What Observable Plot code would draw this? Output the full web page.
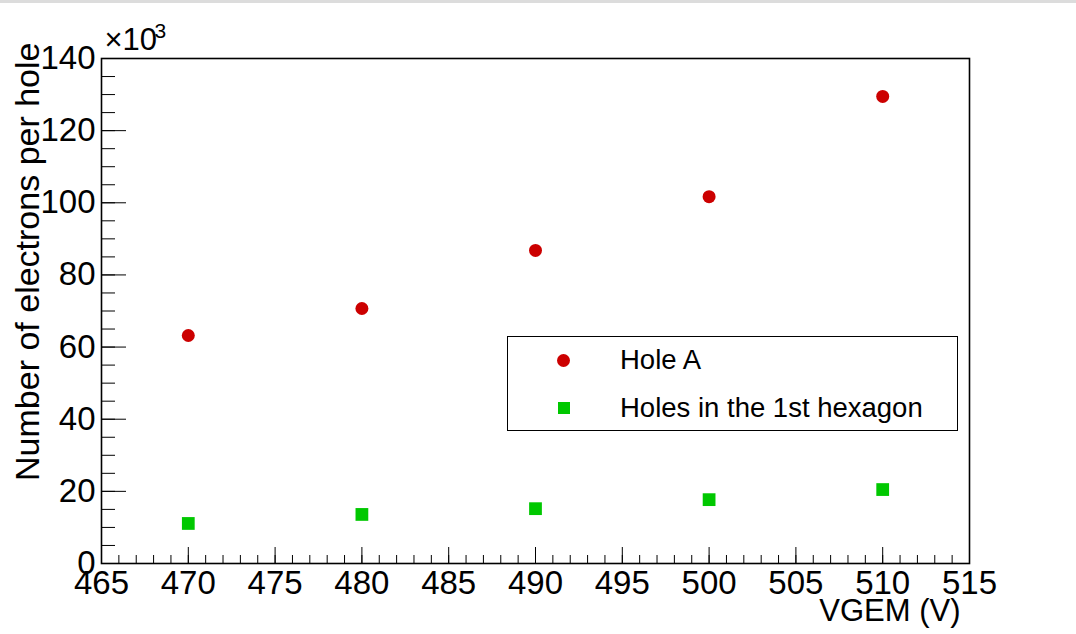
<!DOCTYPE html>
<html><head><meta charset="utf-8">
<script src="https://cdn.jsdelivr.net/npm/d3@7"></script>
<script src="https://cdn.jsdelivr.net/npm/@observablehq/plot@0.6"></script>
<style>
body{margin:0;background:#fff;font-family:"Liberation Sans",Arial,Helvetica,sans-serif;}
#band{height:3px;background:#dcdcdc;}
#wrap{position:relative;width:1076px;height:631px;}
#legend{position:absolute;left:507px;top:333px;width:451px;height:95px;border:1.5px solid #000;background:#fff;box-sizing:border-box;}
.row{position:absolute;left:0;height:30px;}
.mk{position:absolute;}
.lt{position:absolute;left:112px;font-size:27.5px;line-height:30px;white-space:nowrap;color:#000;}
</style></head>
<body>
<div id="band"></div>
<div id="wrap"><div id="legend"></div></div>
<script>
// Data (values in units of 10^3 electrons)
const voltage = [470, 480, 490, 500, 510];
const holeA = [63.2, 70.7, 86.8, 101.7, 129.5];
const hexagon = [11.1, 13.6, 15.2, 17.7, 20.5];
const seriesNames = ["Hole A", "Holes in the 1st hexagon"];
const seriesColors = ["#cc0000", "#00c800"];
const xMajor = [465, 470, 475, 480, 485, 490, 495, 500, 505, 510, 515];
const yMajor = [0, 20, 40, 60, 80, 100, 120, 140];
const xMinor = d3.range(465, 516, 1);
const yMinor = d3.range(0, 141, 5);

const rowsA = voltage.map((v, i) => ({v, n: holeA[i]}));
const rowsH = voltage.map((v, i) => ({v, n: hexagon[i]}));

const W = 1076, H = 631, ML = 101, MR = 107, MT = 55, MB = 71;
const FW = W - ML - MR, FH = H - MT - MB;
const font = '"Liberation Sans", Arial, Helvetica, sans-serif';

const chart = Plot.plot({
  width: W, height: H,
  marginLeft: ML, marginRight: MR, marginTop: MT, marginBottom: MB,
  style: {fontFamily: font, color: "#000", background: "transparent", overflow: "visible"},
  x: {domain: [465, 515]},
  y: {domain: [0, 140]},
  marks: [
    Plot.tickX(xMinor, {x: d => d, insetTop: FH - 8, stroke: "#000", strokeWidth: 1}),
    Plot.tickX(xMajor, {x: d => d, insetTop: FH - 16, stroke: "#000", strokeWidth: 1}),
    Plot.tickY(yMinor, {y: d => d, insetRight: FW - 14, stroke: "#000", strokeWidth: 1}),
    Plot.tickY(yMajor, {y: d => d, insetRight: FW - 25, stroke: "#000", strokeWidth: 1}),
    Plot.frame({stroke: "#000", strokeWidth: 1.6}),
    Plot.axisX(xMajor, {tickSize: 0, tickPadding: 7, fontSize: 33, label: null}),
    Plot.axisY(yMajor, {tickSize: 0, tickPadding: 6, fontSize: 33, label: null}),
    Plot.text(["Number of electrons per hole"], {frameAnchor: "top-left", rotate: -90, textAnchor: "end", lineAnchor: "middle", dx: -73, dy: -16, fontSize: 34, fill: "#000"}),
    Plot.text(["VGEM (V)"], {frameAnchor: "bottom-right", textAnchor: "end", lineAnchor: "middle", dx: -9, dy: 48, fontSize: 31, fill: "#000"}),
    Plot.text(["×10"], {frameAnchor: "top-left", textAnchor: "start", lineAnchor: "middle", dx: 3, dy: -18, fontSize: 31, fill: "#000"}),
    Plot.text(["3"], {frameAnchor: "top-left", textAnchor: "start", lineAnchor: "middle", dx: 53, dy: -27, fontSize: 21, fill: "#000"}),
    Plot.dot(rowsA, {x: "v", y: "n", r: 6.5, fill: seriesColors[0], symbol: "circle"}),
    Plot.dot(rowsH, {x: "v", y: "n", r: 7.2, fill: seriesColors[1], symbol: "square"})
  ]
});
document.getElementById("wrap").prepend(chart);

// Legend
const legend = document.getElementById("legend");
seriesNames.forEach((name, i) => {
  const row = document.createElement("div");
  row.className = "row";
  row.style.top = (i === 0 ? 8 : 56) + "px";
  row.style.width = "100%";
  const mk = document.createElement("div");
  mk.className = "mk";
  mk.style.background = seriesColors[i];
  if (i === 0) { mk.style.width = "13px"; mk.style.height = "13px"; mk.style.borderRadius = "50%"; mk.style.left = "49px"; mk.style.top = "8.5px"; }
  else { mk.style.width = "12px"; mk.style.height = "12px"; mk.style.left = "49.5px"; mk.style.top = "9px"; }
  const t = document.createElement("div");
  t.className = "lt";
  t.textContent = name;
  row.appendChild(mk); row.appendChild(t);
  legend.appendChild(row);
});
</script>
</body></html>
